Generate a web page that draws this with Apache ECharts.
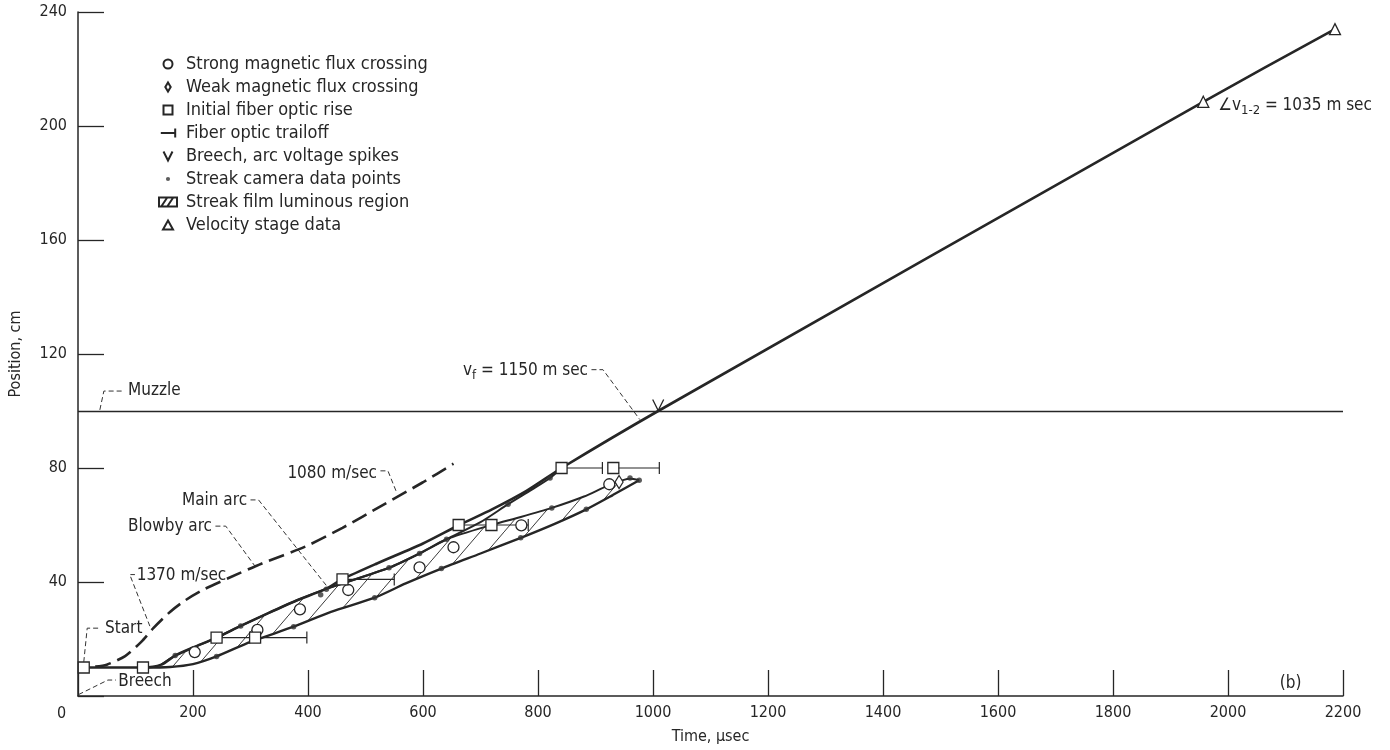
<!DOCTYPE html>
<html lang="en">
<head>
  <meta charset="UTF-8">
  <title>Position vs time</title>
  <script src="https://cdn.jsdelivr.net/npm/echarts@6/dist/echarts.min.js"></script>
  <style>
    html, body { margin: 0; background: #fff; }
    #chart { width: 1390px; height: 750px; }
  </style>
</head>
<body>
  <div id="chart"></div>
  <script>
    // time (usec), position (cm)
    const xMax = 2200, xStep = 200
    const yMax = 240, yStep = 40
    const muzzlePosition = 100

    // front of the arc, ends on the velocity stages
    const frontLine = [[10, 10], [60, 10], [113, 10], [145, 11], [169, 14.2], [200, 17], [241, 20.5], [283, 24.6],
      [330, 29], [380, 33.5], [430, 37.5], [460, 41], [520, 46.5], [600, 53.5], [663, 60], [720, 65.5],
      [780, 72], [841, 80], [1009, 100], [1957, 208.5], [2186, 234]]
    const mainArcLine = [[430, 37.5], [541, 45], [594, 50], [641, 55], [700, 61], [748, 67.3], [790, 72.5], [821, 76.5], [841, 80]]
    const luminousTop = [[145, 11], [169, 14.2], [241, 20.5], [283, 24.6], [330, 29], [380, 33.5], [430, 37.5], [541, 45],
      [594, 50], [641, 55], [719, 60], [770, 62.8], [824, 66], [880, 70], [924, 74], [960, 76.2], [976, 75.7]]
    const luminousBottom = [[113, 10], [160, 10.2], [200, 11.2], [241, 13.9], [300, 19], [375, 24.3], [440, 29.5],
      [516, 34.5], [570, 39.5], [632, 44.7], [700, 50], [770, 55.5], [830, 60.5], [884, 65.5], [930, 70.5], [976, 75.7]]
    const blowbyArc = [[30, 10.3], [50, 11], [82, 14], [110, 19], [131, 23.8], [160, 29.5], [186, 33.5], [220, 37.5],
      [261, 41.3], [320, 46.5], [395, 52.4], [460, 59], [530, 67], [600, 75], [653, 81.5]]

    const strongFlux = [[203, 15.4], [312, 23.2], [386, 30.4], [470, 37.2], [594, 45.1], [653, 52.2], [771, 59.9], [924, 74.3]]
    const weakFlux = [[941, 75.1]]
    const fiberRise = [[10, 10], [113, 10], [241, 20.5], [308, 20.5], [460, 40.9], [662, 60], [719, 60], [841, 80], [931, 80]]
    // start, end, position
    const fiberTrailoff = [[241, 398, 20.5], [460, 550, 40.9], [662, 783, 60], [841, 912, 80], [931, 1011, 80]]
    const breechSpikes = [[1009, 100]]
    const streakPoints = [[169, 14.2], [283, 24.6], [422, 35.5], [432, 37.5], [541, 45], [594, 50], [641, 55], [748, 67.3],
      [821, 76.5], [960, 76.5], [976, 75.7], [241, 13.9], [375, 24.3], [516, 34.5], [632, 44.7], [770, 55.5], [884, 65.5], [824, 66]]
    const velocityStage = [[1957, 208.5], [2186, 234]]

    const F = '"Liberation Sans Narrow","DejaVu Sans Condensed","Roboto Condensed",sans-serif'
    const ink = '#262626'

    // text notes with dashed leaders, in data units
    const notes = [
      { text: 'Muzzle', at: [87, 107.1], leader: [[38, 100.4], [45, 107], [80, 107]] },
      { text: 'Start', at: [47, 23.8], leader: [[10, 11.9], [16, 23.8], [40, 23.8]] },
      { text: 'Breech', at: [70, 5.2], leader: [[1, 0.5], [52, 5.6], [66, 5.6]] },
      { text: '1370 m/sec', at: [102, 42.3], leader: [[125, 24.5], [90, 42.6], [99, 42.6]] },
      { text: '1080 m/sec', at: [520, 78], align: 'right', leader: [[526, 79], [539, 79], [555, 71]] },
      { text: 'Main arc', at: [294, 68.6], align: 'right', leader: [[300, 68.8], [314, 68.8], [433, 38.5]] },
      { text: 'Blowby arc', at: [233, 59.6], align: 'right', leader: [[239, 59.6], [257, 59.6], [308, 45.5]] },
      { text: '{a|v}{s|f}{a| = 1150 m sec}', at: [887, 114.2], align: 'right', leader: [[893, 114.5], [913, 114.5], [977, 97]] },
      { text: '{a|\u2220v}{s|1-2}{a| = 1035 m sec}', at: [1983, 207.2] },
      { text: '(b)', at: [2090, 4.5] }
    ]

    function hatchPattern() {
      const c = document.createElement('canvas')
      c.width = 24
      c.height = 28
      const g = c.getContext('2d')
      g.strokeStyle = '#3a3a3a'
      g.lineWidth = 1
      g.beginPath()
      g.moveTo(-2, 30.33)
      g.lineTo(26, -2.33)
      g.stroke()
      return { image: c, repeat: 'repeat' }
    }
    const hatch = hatchPattern()

    const chart = echarts.init(document.getElementById('chart'))

    const thinLine = (name, data, width, extra) => Object.assign({
      name, type: 'line', data, symbol: 'none', smooth: 0.25, silent: true, z: 3,
      lineStyle: { color: ink, width }
    }, extra || {})

    const marks = (name, data, symbol, size, fill, extra) => Object.assign({
      name, type: 'scatter', data, symbol, symbolSize: size, z: 6, silent: true,
      itemStyle: { color: fill, borderColor: ink, borderWidth: 1.3, opacity: 1 }
    }, extra || {})

    const circleIcon = 'path://M0,5a5,5 0 1,0 10,0a5,5 0 1,0 -10,0Z'
    const rectIcon = 'path://M0,0L10,0L10,10L0,10Z'
    const triIcon = 'path://M5,0L10,9L0,9Z'
    const diamondIcon = 'path://M3,0L6,5L3,10L0,5Z'
    const vPath = 'path://M0,0L5,10L10,0'
    const dotIcon = 'path://M0,0M10,10M5,5m-2.3,0a2.3,2.3 0 1,0 4.6,0a2.3,2.3 0 1,0 -4.6,0'
    const hatchIcon = 'path://M0,0L24,0L24,12L0,12Z M3,12L11,0 M11,12L19,0'

    const option = {
      animation: false,
      grid: { left: 78, right: 47, top: 12, bottom: 52 },
      xAxis: {
        type: 'value', min: 0, max: xMax, interval: xStep,
        name: 'Time, \u00b5sec', nameLocation: 'middle', nameGap: 33,
        nameTextStyle: { fontFamily: F, fontSize: 16, color: ink },
        axisLine: { lineStyle: { color: ink, width: 1.5 } },
        axisTick: { inside: true, length: 26, lineStyle: { color: ink, width: 1.3 } },
        axisLabel: { margin: 9, fontFamily: F, fontSize: 16, color: ink, formatter: v => v === 0 ? '' : String(v) },
        splitLine: { show: false }
      },
      yAxis: {
        type: 'value', min: 0, max: yMax, interval: yStep,
        name: 'Position, cm', nameLocation: 'middle', nameGap: 54,
        nameTextStyle: { fontFamily: F, fontSize: 16, color: ink },
        axisLine: { show: true, lineStyle: { color: ink, width: 1.5 } },
        axisTick: { show: true, inside: true, length: 26, lineStyle: { color: ink, width: 1.3 } },
        axisLabel: { margin: 11, fontFamily: F, fontSize: 16, color: ink, formatter: v => v === 0 ? '' : String(v) },
        splitLine: { show: false }
      },
      legend: {
        orient: 'vertical', left: 153, top: 49, itemWidth: 26, itemHeight: 9, itemGap: 3,
        selectedMode: false,
        textStyle: { fontFamily: F, fontSize: 18, color: ink, lineHeight: 20 },
        data: [
          { name: 'Strong magnetic flux crossing', icon: circleIcon },
          { name: 'Weak magnetic flux crossing', icon: diamondIcon },
          { name: 'Initial fiber optic rise', icon: rectIcon },
          { name: 'Fiber optic trailoff', icon: 'path://M0,5L16,5M16,0L16,10' },
          { name: 'Breech, arc voltage spikes', icon: vPath },
          { name: 'Streak camera data points', icon: dotIcon },
          { name: 'Streak film luminous region', icon: hatchIcon },
          { name: 'Velocity stage data', icon: triIcon }
        ]
      },
      graphic: [
        { type: 'text', left: 57, top: 706, style: { text: '0', fontFamily: F, fontSize: 16, fill: ink } }
      ],
      series: [
        {
          name: 'Streak film luminous region', type: 'custom', silent: true, z: 1,
          itemStyle: { color: '#fff', borderColor: ink, borderWidth: 1 },
          data: [luminousTop[0]],
          renderItem(params, api) {
            const pts = luminousTop.map(p => api.coord(p))
              .concat(luminousBottom.slice().reverse().map(p => api.coord(p)))
            return { type: 'polygon', shape: { points: pts, smooth: 0.2 }, style: { fill: hatch, stroke: null } }
          }
        },
        thinLine('Front', frontLine, 2.6, {
          markLine: {
            symbol: 'none', silent: true, label: { show: false },
            lineStyle: { color: ink, width: 1.3, type: 'solid' },
            data: [{ yAxis: muzzlePosition }]
          }
        }),
        thinLine('Main arc', mainArcLine, 2),
        thinLine('Luminous top', luminousTop, 2),
        thinLine('Luminous bottom', luminousBottom, 2.4),
        thinLine('Blowby arc', blowbyArc, 2.6, { lineStyle: { color: ink, width: 2.6, type: [16, 7] } }),
        {
          name: 'Fiber optic trailoff', type: 'custom', silent: true, z: 4,
          itemStyle: { color: ink, borderColor: ink, borderWidth: 1.3 },
          encode: { x: [0, 1], y: 2 },
          data: fiberTrailoff,
          renderItem(params, api) {
            const a = api.coord([api.value(0), api.value(2)])
            const b = api.coord([api.value(1), api.value(2)])
            const st = { stroke: ink, lineWidth: 1.2, fill: null }
            return {
              type: 'group', children: [
                { type: 'line', shape: { x1: a[0], y1: a[1], x2: b[0], y2: b[1] }, style: st },
                { type: 'line', shape: { x1: b[0], y1: b[1] - 6, x2: b[0], y2: b[1] + 6 }, style: st }
              ]
            }
          }
        },
        marks('Streak camera data points', streakPoints, 'circle', 5.5, '#333', { itemStyle: { color: '#333', borderWidth: 0 } }),
        marks('Strong magnetic flux crossing', strongFlux, 'circle', 11, '#fff'),
        marks('Weak magnetic flux crossing', weakFlux, diamondIcon, [8, 13], '#fff'),
        marks('Initial fiber optic rise', fiberRise, 'rect', 11, '#fff'),
        marks('Breech, arc voltage spikes', breechSpikes, vPath, [11, 11], 'none', { symbolOffset: [0, -6] }),
        marks('Velocity stage data', velocityStage, 'triangle', 11, '#fff'),
        {
          name: 'notes', type: 'custom', silent: true, z: 7,
          data: notes.map(n => n.at),
          renderItem(params, api) {
            const n = notes[params.dataIndex]
            const p = api.coord(n.at)
            const children = []
            if (n.leader) {
              children.push({
                type: 'polyline', shape: { points: n.leader.map(q => api.coord(q)) },
                style: { stroke: '#333', lineWidth: 1, lineDash: [5, 3], fill: null }
              })
            }
            children.push({
              type: 'text', x: p[0], y: p[1],
              style: {
                text: n.text, fill: ink, fontFamily: F, fontSize: 17,
                align: n.align || 'left', verticalAlign: 'middle',
                rich: {
                  a: { fontFamily: F, fontSize: 17, fill: ink, lineHeight: 24 },
                  s: { fontFamily: F, fontSize: 13, fill: ink, lineHeight: 14, verticalAlign: 'bottom' }
                }
              }
            })
            return { type: 'group', children }
          }
        }
      ]
    }

    chart.setOption(option)
  </script>
</body>
</html>
